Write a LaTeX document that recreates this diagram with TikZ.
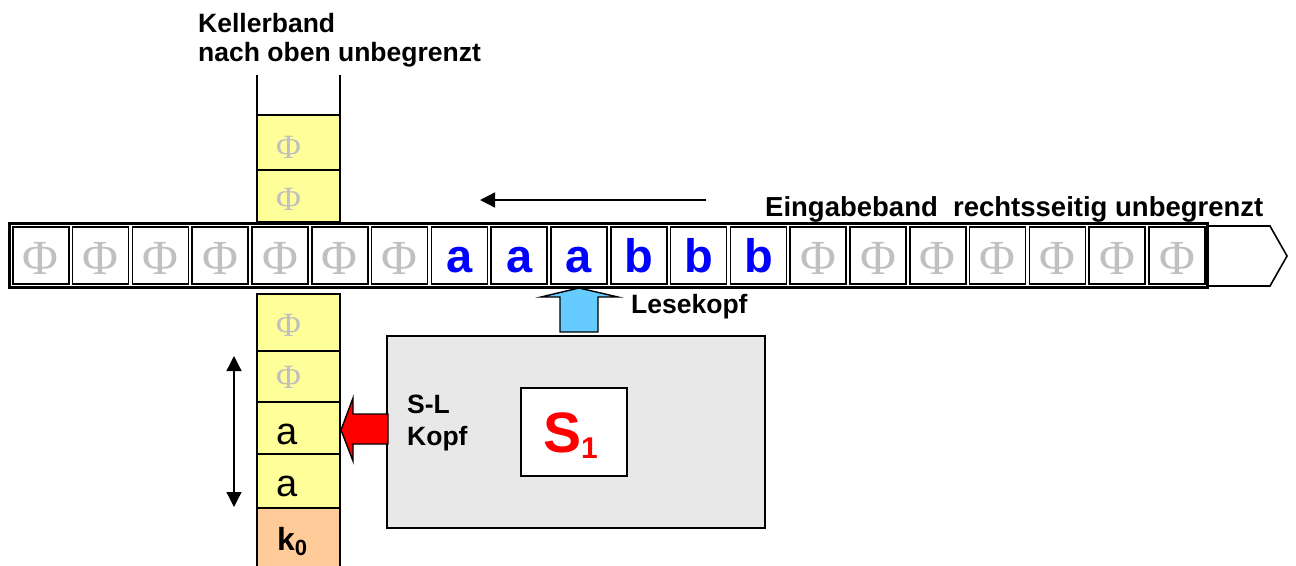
\documentclass[tikz,border=0pt]{standalone}
\usepackage{fontspec}
\setmainfont{Liberation Sans}
\newfontfamily\phifont{Liberation Serif}
\usetikzlibrary{arrows.meta}

\definecolor{phigray}{HTML}{C0C0C0}
\definecolor{kellergelb}{HTML}{FFFF99}
\definecolor{kellerorange}{HTML}{FFCC99}
\definecolor{boxgray}{HTML}{E8E8E8}
\definecolor{leseblau}{HTML}{66CCFF}

\tikzset{
  lbl/.style={font=\bfseries\fontsize{26.5}{28}\selectfont, anchor=base west, inner sep=0pt},
  tapecell/.style={draw, line width=1.7pt, minimum width=56pt, minimum height=57.5pt, inner sep=0pt},
  tapephi/.style={text=phigray, font=\phifont\fontsize{49}{49}\selectfont, anchor=base, inner sep=0pt},
  tapesym/.style={text=blue, font=\bfseries\fontsize{47}{47}\selectfont, anchor=base, inner sep=0pt},
  stackcell/.style={draw, line width=1.2pt, fill=kellergelb},
  stackphi/.style={text=phigray, font=\phifont\fontsize{34}{34}\selectfont, anchor=base west, inner sep=0pt},
  stacksym/.style={font=\fontsize{38}{38}\selectfont, anchor=base west, inner sep=0pt},
  thinarrow/.style={line width=1.3pt, -{Triangle[width=15pt,length=15pt]}},
  blockarrow/.style={draw, line width=1.4pt, line join=miter},
}

\begin{document}
\begin{tikzpicture}[x=1pt,y=-1pt]
\useasboundingbox (0,0) rectangle (1296,565);

% ---------- Kellerband (stack tape) ----------
\draw[line width=1.2pt] (257,75) -- (257,115);
\draw[line width=1.2pt] (340,75) -- (340,115);
\path[stackcell] (257,115) rectangle (340,170);
\path[stackcell] (257,170) rectangle (340,222);
\node[stackphi] (ku1) at (276,158) {Φ};
\node[stackphi] (ku2) at (276,210) {Φ};

\path[stackcell] (257,294) rectangle (340,351);
\path[stackcell] (257,351) rectangle (340,402);
\path[stackcell] (257,402) rectangle (340,454);
\path[stackcell] (257,454) rectangle (340,508);
\path[stackcell, fill=kellerorange] (257,508) rectangle (340,575);
\node[stackphi] (kl1) at (276,336) {Φ};
\node[stackphi] (kl2) at (276,388) {Φ};
\node[stacksym] (kl3) at (276,444) {a};
\node[stacksym] (kl4) at (276,496) {a};
\node[anchor=base west, inner sep=0pt, font=\bfseries\fontsize{32}{32}\selectfont] (k0) at (277,550)
  {k\raisebox{-5pt}{\fontsize{22}{22}\selectfont 0}};

\node[lbl] (kb1) at (198,32) {Kellerband};
\node[lbl] (kb2) at (198,61) {nach oben unbegrenzt};

% ---------- Eingabeband (input tape) ----------
\draw[line width=2.2pt] (9.5,223.5) rectangle (1207.5,287.5);
\foreach \i in {0,...,19}{
  \pgfmathsetmacro\cx{40.75+59.8*\i}
  \node[tapecell] (t\i) at (\cx,255.5) {};
}
\foreach \i in {0,...,6,13,14,...,19}{
  \pgfmathsetmacro\cx{40.75+59.8*\i}
  \node[tapephi] at (\cx,274) {Φ};
}
\foreach \c [count=\i from 7] in {a,a,a,b,b,b}{
  \pgfmathsetmacro\cx{40.75+59.8*\i}
  \node[tapesym] at (\cx,272) {\c};
}
% open right end
\draw[line width=1.6pt, line join=miter] (1208,226) -- (1270,226) -- (1287,256) -- (1270,286) -- (1208,286);

\node[lbl, font=\bfseries\fontsize{27.5}{28}\selectfont] (eb) at (765,216) {Eingabeband\ \ rechtsseitig unbegrenzt};

% reading direction
\coordinate (dirA) at (706,200);
\coordinate (dirB) at (480,200);
\draw[thinarrow] (dirA) -- (dirB);

% ---------- control unit ----------
\node[draw, line width=1.6pt, fill=boxgray, minimum width=378pt, minimum height=192pt, inner sep=0pt]
  (ctrl) at (576,432) {};
\node[draw, line width=1.4pt, fill=white, minimum width=106pt, minimum height=88pt, inner sep=0pt]
  (state) at (574,432) {};
\node[anchor=base west, inner sep=0pt, text=red, font=\bfseries\fontsize{57}{57}\selectfont] (s1) at (543,452)
  {S\raisebox{-6pt}{\fontsize{30}{30}\selectfont 1}};

\node[lbl] (sl1) at (407,413) {S-L};
\node[lbl] (sl2) at (407,445) {Kopf};
\node[lbl] (lk) at (631,313) {Lesekopf};

% reading head arrow (up)
\path[blockarrow, fill=leseblau] (579,288) -- (618,297) -- (598,297) -- (598,332)
  -- (560,332) -- (560,297) -- (541,297) -- cycle;

% stack head arrow (left)
\path[blockarrow, fill=red] (341,430) -- (353,398) -- (353,414) -- (388,414)
  -- (388,444) -- (353,444) -- (353,461) -- cycle;

% stack movement
\coordinate (mvA) at (234,356);
\coordinate (mvB) at (234,507);
\draw[line width=1.3pt, {Triangle[width=15pt,length=15pt]}-{Triangle[width=15pt,length=15pt]}] (mvA) -- (mvB);
\end{tikzpicture}
\end{document}
